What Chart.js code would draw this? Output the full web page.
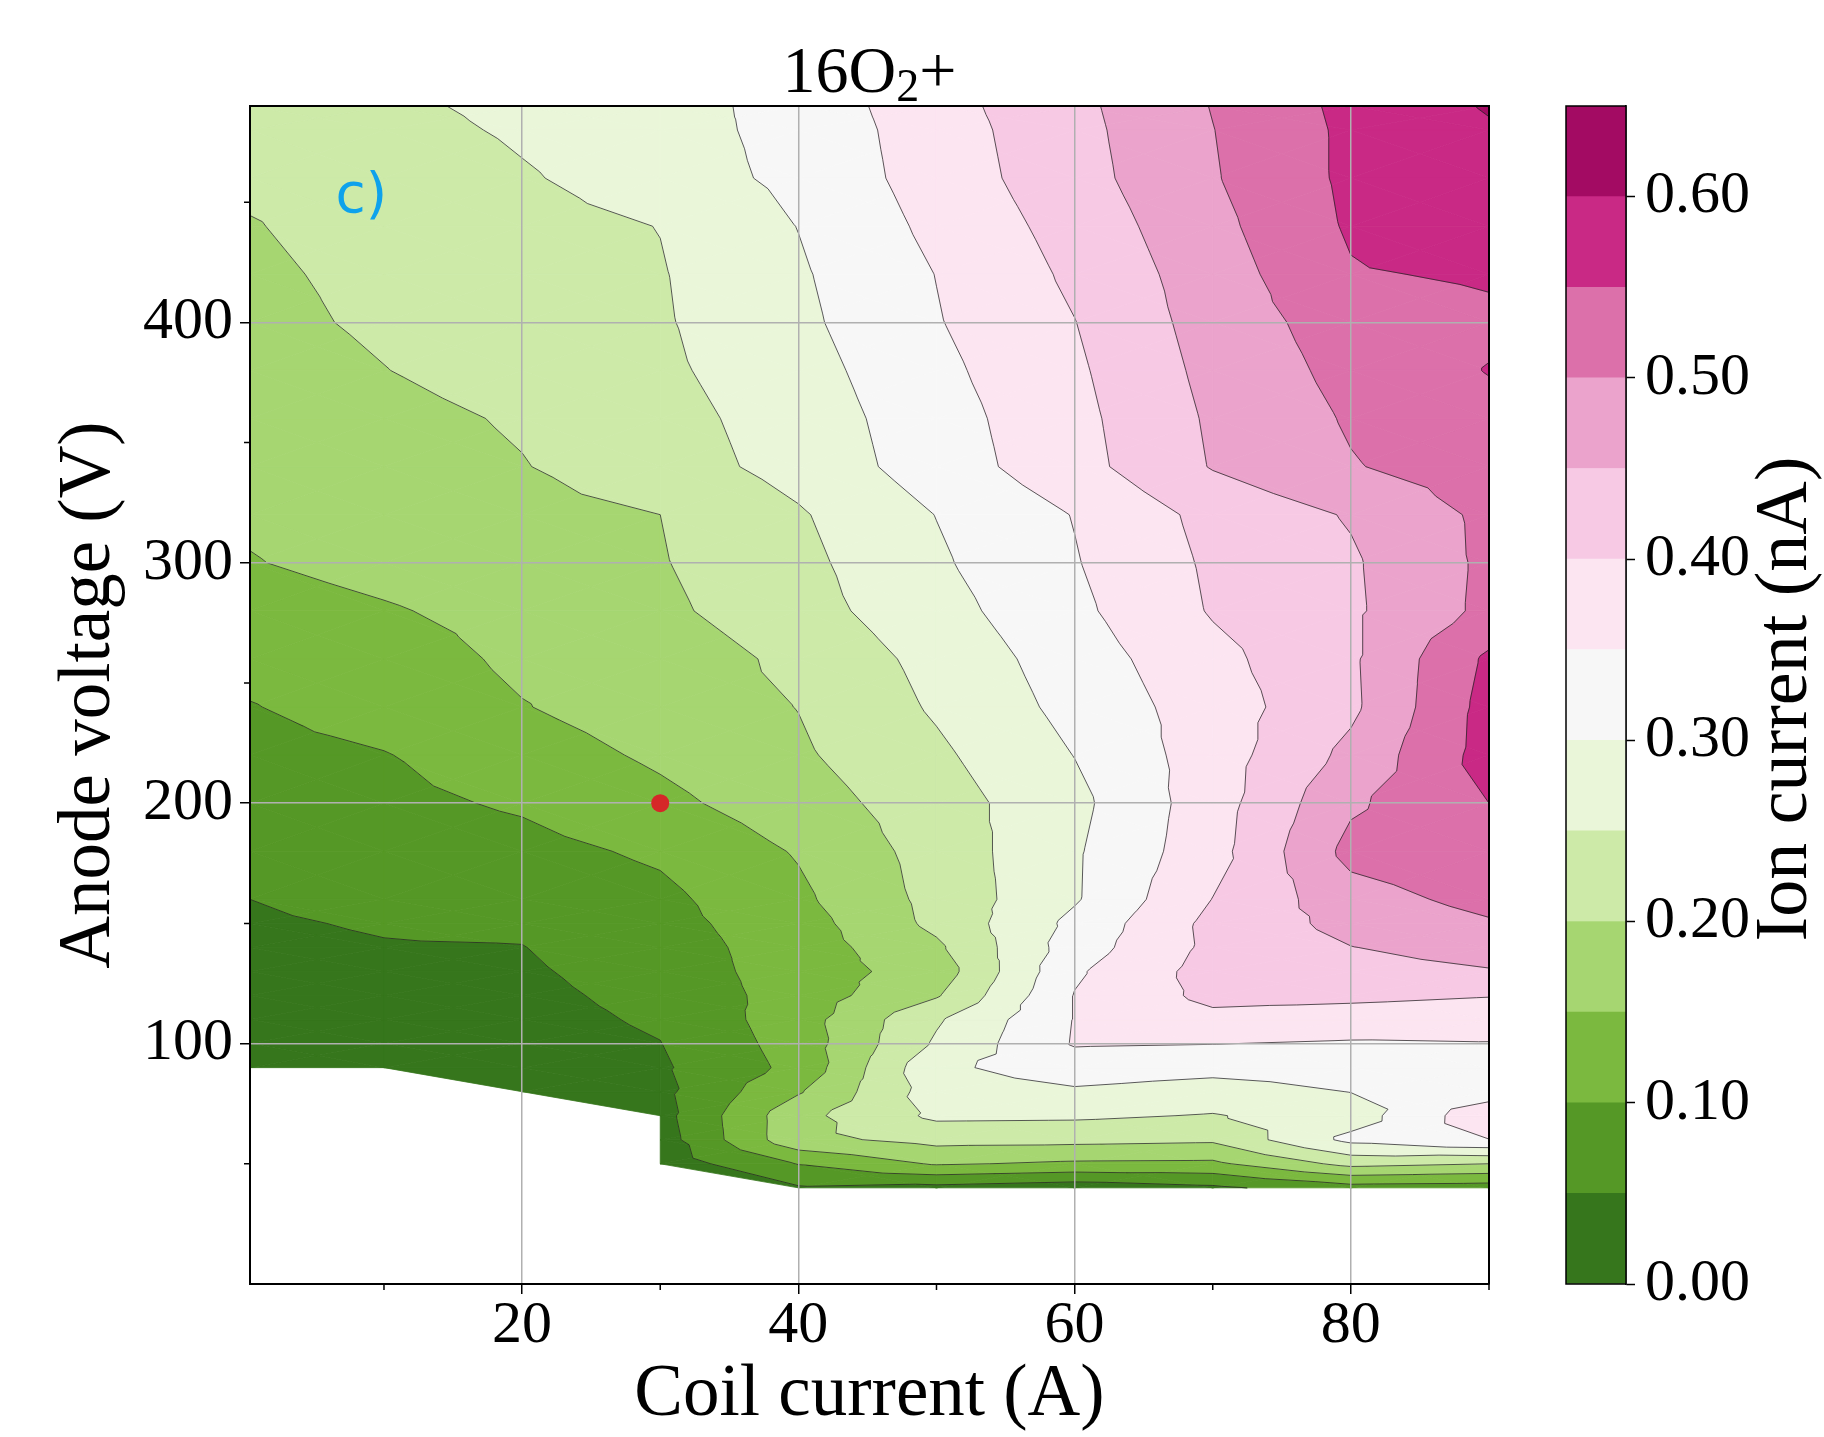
<!DOCTYPE html>
<html>
<head>
<meta charset="utf-8">
<script src="https://cdn.jsdelivr.net/npm/chart.js@4.4.1/dist/chart.umd.min.js"></script>
<style>
  html, body { margin: 0; padding: 0; background: #fff; }
  #wrap { position: relative; width: 1824px; height: 1437px; overflow: hidden; }
  #main { position: absolute; left: 0; top: 0; }
  #cbar { position: absolute; left: 1540px; top: 0; }
</style>
</head>
<body>
<div id="wrap">
  <canvas id="main" width="1540" height="1437"></canvas>
  <canvas id="cbar" width="284" height="1437"></canvas>
</div>
<script>
// measured grid: coil current (A) across, anode voltage (V) up
var coilCurrent = [0.3, 10, 20, 30, 40, 50, 60, 70, 80, 90];
var anodeVoltage = [40, 50, 60, 70, 80, 90, 100, 110, 120, 130, 140, 150, 160, 180, 200,
  220, 240, 260, 280, 300, 320, 340, 360, 380, 400, 420, 440, 460, 480, 490];

// ion current (nA), one row per anode voltage, null = not measured
var ionCurrent = [
  [null, null, null, null, 0.045, 0.035, 0.020, 0.040, 0.080, 0.075],
  [null, null, null, 0.020, 0.102, 0.155, 0.142, 0.140, 0.215, 0.200],
  [null, null, null, 0.026, 0.186, 0.216, 0.214, 0.208, 0.313, 0.349],
  [null, null, null, 0.032, 0.185, 0.260, 0.258, 0.247, 0.275, 0.385],
  [null, null, 0.020, 0.037, 0.145, 0.275, 0.293, 0.278, 0.301, 0.325],
  [0.020, 0.020, 0.025, 0.043, 0.114, 0.290, 0.326, 0.316, 0.323, 0.337],
  [0.024, 0.026, 0.030, 0.049, 0.121, 0.257, 0.354, 0.351, 0.345, 0.348],
  [0.029, 0.031, 0.035, 0.056, 0.127, 0.244, 0.352, 0.387, 0.379, 0.373],
  [0.033, 0.037, 0.039, 0.063, 0.122, 0.195, 0.352, 0.413, 0.410, 0.402],
  [0.038, 0.042, 0.044, 0.070, 0.125, 0.172, 0.343, 0.420, 0.435, 0.447],
  [0.042, 0.048, 0.049, 0.077, 0.124, 0.191, 0.325, 0.412, 0.449, 0.468],
  [0.046, 0.053, 0.057, 0.084, 0.128, 0.212, 0.313, 0.414, 0.465, 0.495],
  [0.050, 0.060, 0.067, 0.088, 0.140, 0.215, 0.295, 0.401, 0.480, 0.515],
  [0.062, 0.072, 0.085, 0.108, 0.154, 0.220, 0.294, 0.381, 0.515, 0.540],
  [0.074, 0.088, 0.106, 0.138, 0.177, 0.227, 0.287, 0.377, 0.492, 0.550],
  [0.086, 0.098, 0.127, 0.158, 0.193, 0.241, 0.301, 0.375, 0.463, 0.570],
  [0.098, 0.120, 0.148, 0.174, 0.201, 0.256, 0.315, 0.375, 0.440, 0.568],
  [0.114, 0.127, 0.159, 0.171, 0.212, 0.265, 0.325, 0.386, 0.442, 0.559],
  [0.131, 0.146, 0.165, 0.190, 0.231, 0.281, 0.339, 0.404, 0.442, 0.512],
  [0.148, 0.164, 0.180, 0.197, 0.237, 0.293, 0.347, 0.408, 0.444, 0.510],
  [0.156, 0.170, 0.185, 0.200, 0.245, 0.301, 0.352, 0.415, 0.454, 0.511],
  [0.163, 0.180, 0.198, 0.227, 0.267, 0.324, 0.382, 0.453, 0.497, 0.525],
  [0.170, 0.186, 0.205, 0.233, 0.272, 0.329, 0.386, 0.457, 0.505, 0.535],
  [0.179, 0.199, 0.220, 0.241, 0.280, 0.338, 0.392, 0.464, 0.515, 0.552],
  [0.188, 0.207, 0.226, 0.245, 0.289, 0.347, 0.399, 0.471, 0.525, 0.540],
  [0.193, 0.210, 0.229, 0.247, 0.294, 0.351, 0.409, 0.476, 0.546, 0.556],
  [0.198, 0.215, 0.233, 0.251, 0.301, 0.362, 0.419, 0.486, 0.556, 0.585],
  [0.207, 0.215, 0.245, 0.275, 0.312, 0.372, 0.431, 0.496, 0.560, 0.590],
  [0.214, 0.232, 0.257, 0.281, 0.315, 0.376, 0.435, 0.499, 0.560, 0.595],
  [0.218, 0.240, 0.262, 0.280, 0.318, 0.381, 0.438, 0.502, 0.563, 0.604]
];

var levels = [0.00, 0.05, 0.10, 0.15, 0.20, 0.25, 0.30, 0.35, 0.40, 0.45, 0.50, 0.55, 0.60, 0.65];
var bandColors = ['#36761c', '#559826', '#7bb93f', '#a6d671', '#cdeaa8', '#eaf6d9', '#f7f7f7',
  '#fce5f1', '#f7c9e4', '#eba3cc', '#dc70aa', '#c92985', '#a30b63'];

var xTicks = [20, 40, 60, 80];
var xMinorTicks = [10, 30, 50, 70, 90];
var yTicks = [100, 200, 300, 400];
var yMinorTicks = [50, 150, 250, 350, 450];
var cbarTicks = [0.0, 0.1, 0.2, 0.3, 0.4, 0.5, 0.6];

// operating point marked in red
var markX = [30];
var markY = [200];

var serif = "'Liberation Serif', 'Times New Roman', serif";
Chart.defaults.font.family = serif;
Chart.defaults.color = '#000';

function mix(a, b, t) {
  return { px: a.px + (b.px - a.px) * t, py: a.py + (b.py - a.py) * t, z: a.z + (b.z - a.z) * t };
}

function clipPoly(poly, f) {
  var out = [];
  for (var i = 0; i < poly.length; i++) {
    var a = poly[i], b = poly[(i + 1) % poly.length];
    var fa = f(a), fb = f(b);
    if (fa >= 0) out.push(a);
    if ((fa >= 0) !== (fb >= 0)) out.push(mix(a, b, fa / (fa - fb)));
  }
  return out;
}

// split every grid cell into triangles (cells with one missing corner keep one triangle)
function buildTriangles(xs, ys) {
  var tris = [];
  for (var j = 0; j < anodeVoltage.length - 1; j++) {
    for (var i = 0; i < coilCurrent.length - 1; i++) {
      var corners = [[i, j], [i + 1, j], [i + 1, j + 1], [i, j + 1]].map(function (c) {
        var z = ionCurrent[c[1]][c[0]];
        if (z === null) return null;
        return { px: xs.getPixelForValue(coilCurrent[c[0]]), py: ys.getPixelForValue(anodeVoltage[c[1]]), z: z };
      });
      var ok = corners.filter(function (p) { return p; });
      if (ok.length === 3) {
        tris.push(ok);
      } else if (ok.length === 4) {
        var mid = { px: 0, py: 0, z: 0 };
        ok.forEach(function (p) { mid.px += p.px / 4; mid.py += p.py / 4; mid.z += p.z / 4; });
        for (var k = 0; k < 4; k++) tris.push([ok[k], ok[(k + 1) % 4], mid]);
      }
    }
  }
  return tris;
}

var contourPlugin = {
  id: 'contourf',
  beforeDraw: function (chart) {
    var ctx = chart.ctx, a = chart.chartArea;
    var tris = buildTriangles(chart.scales.x, chart.scales.y);
    ctx.save();
    ctx.beginPath();
    ctx.rect(a.left, a.top, a.right - a.left, a.bottom - a.top);
    ctx.clip();
    ctx.lineJoin = 'round';
    tris.forEach(function (t) {
      for (var k = 0; k < bandColors.length; k++) {
        var lo = levels[k], hi = levels[k + 1];
        var p = clipPoly(clipPoly(t, function (q) { return q.z - lo; }), function (q) { return hi - q.z; });
        if (p.length < 3) continue;
        ctx.beginPath();
        ctx.moveTo(p[0].px, p[0].py);
        for (var n = 1; n < p.length; n++) ctx.lineTo(p[n].px, p[n].py);
        ctx.closePath();
        ctx.fillStyle = bandColors[k];
        ctx.strokeStyle = bandColors[k];
        ctx.lineWidth = 0.8;
        ctx.fill();
        ctx.stroke();
      }
    });
    // contour lines
    ctx.beginPath();
    tris.forEach(function (t) {
      for (var k = 1; k < levels.length - 1; k++) {
        var L = levels[k], pts = [];
        for (var e = 0; e < 3; e++) {
          var p = t[e], q = t[(e + 1) % 3];
          var fp = p.z - L, fq = q.z - L;
          if ((fp >= 0) !== (fq >= 0)) pts.push(mix(p, q, fp / (fp - fq)));
        }
        if (pts.length === 2) {
          ctx.moveTo(pts[0].px, pts[0].py);
          ctx.lineTo(pts[1].px, pts[1].py);
        }
      }
    });
    ctx.strokeStyle = 'rgba(35,35,35,0.75)';
    ctx.lineWidth = 1;
    ctx.stroke();
    ctx.restore();
  }
};

var framePlugin = {
  id: 'frame',
  afterDraw: function (chart) {
    var ctx = chart.ctx, a = chart.chartArea, xs = chart.scales.x, ys = chart.scales.y;
    ctx.save();
    ctx.strokeStyle = '#000';
    ctx.lineWidth = 2;
    ctx.beginPath();
    ctx.moveTo(a.left, a.top); ctx.lineTo(a.right, a.top); ctx.lineTo(a.right, a.bottom);
    ctx.stroke();
    ctx.lineWidth = 1.5;
    ctx.beginPath();
    xMinorTicks.forEach(function (v) {
      var px = xs.getPixelForValue(v);
      ctx.moveTo(px, a.bottom); ctx.lineTo(px, a.bottom + 6);
    });
    yMinorTicks.forEach(function (v) {
      var py = ys.getPixelForValue(v);
      ctx.moveTo(a.left - 6, py); ctx.lineTo(a.left, py);
    });
    ctx.stroke();

    // title 16O2+
    ctx.fillStyle = '#000';
    ctx.textBaseline = 'alphabetic';
    ctx.textAlign = 'left';
    var big = '66px ' + serif, small = '46px ' + serif;
    ctx.font = big;
    var w1 = ctx.measureText('16O').width, w3 = ctx.measureText('+').width;
    ctx.font = small;
    var w2 = ctx.measureText('2').width;
    var x0 = (a.left + a.right) / 2 - (w1 + w2 + w3) / 2;
    ctx.font = big;
    ctx.fillText('16O', x0, 92);
    ctx.font = small;
    ctx.fillText('2', x0 + w1, 101);
    ctx.font = big;
    ctx.fillText('+', x0 + w1 + w2, 92);

    // panel letter
    ctx.font = "55px 'DejaVu Sans', sans-serif";
    ctx.fillStyle = '#0ea2ec';
    ctx.fillText('c)', a.left + 0.069 * (a.right - a.left), a.top + 0.09 * (a.bottom - a.top));
    ctx.restore();
  }
};

new Chart(document.getElementById('main'), {
  type: 'scatter',
  data: {
    datasets: [{
      data: markX.map(function (x, i) { return { x: x, y: markY[i] }; }),
      pointRadius: 9,
      pointHoverRadius: 9,
      backgroundColor: '#d62728',
      borderWidth: 0
    }]
  },
  options: {
    responsive: false,
    animation: false,
    devicePixelRatio: 1,
    events: [],
    layout: { padding: { left: 0, right: 51, top: 106, bottom: 0 } },
    plugins: { legend: { display: false }, tooltip: { enabled: false } },
    scales: {
      x: {
        type: 'linear', min: 0.3, max: 90,
        afterBuildTicks: function (s) { s.ticks = xTicks.map(function (v) { return { value: v }; }); },
        afterFit: function (s) { s.height = 153; },
        grid: { color: '#b0b0b0', lineWidth: 1.5, tickColor: '#000', tickLength: 10, tickWidth: 1.5 },
        border: { color: '#000', width: 2 },
        ticks: { font: { size: 60, lineHeight: 1 }, padding: 2, maxRotation: 0, autoSkip: false,
          callback: function (v) { return String(v); } },
        title: { display: true, text: 'Coil current (A)', font: { size: 73, lineHeight: 1 }, padding: { top: 0, bottom: 5 } }
      },
      y: {
        type: 'linear', min: 0, max: 490,
        afterBuildTicks: function (s) { s.ticks = yTicks.map(function (v) { return { value: v }; }); },
        afterFit: function (s) { s.width = 250; },
        grid: { color: '#b0b0b0', lineWidth: 1.5, tickColor: '#000', tickLength: 10, tickWidth: 1.5 },
        border: { color: '#000', width: 2 },
        ticks: { font: { size: 60, lineHeight: 1 }, padding: 7, autoSkip: false,
          callback: function (v) { return String(v); } },
        title: { display: true, text: 'Anode voltage (V)', font: { size: 73, lineHeight: 1 }, padding: { top: 53, bottom: 0 } }
      }
    }
  },
  plugins: [contourPlugin, framePlugin]
});

var cbarFramePlugin = {
  id: 'cbarFrame',
  afterDraw: function (chart) {
    var ctx = chart.ctx, a = chart.chartArea;
    ctx.save();
    ctx.strokeStyle = '#000';
    ctx.lineWidth = 1.5;
    ctx.strokeRect(a.left, a.top, a.right - a.left, a.bottom - a.top);
    ctx.translate(266, (a.top + a.bottom) / 2 + 4);
    ctx.rotate(-Math.PI / 2);
    ctx.font = '74px ' + serif;
    ctx.fillStyle = '#000';
    ctx.textAlign = 'center';
    ctx.textBaseline = 'alphabetic';
    ctx.fillText('Ion current (nA)', 0, 0);
    ctx.restore();
  }
};

new Chart(document.getElementById('cbar'), {
  type: 'bar',
  data: {
    labels: [''],
    datasets: bandColors.map(function (c, k) {
      return { data: [[levels[k], levels[k + 1]]], backgroundColor: c, borderWidth: 0,
        barPercentage: 1, categoryPercentage: 1, grouped: false };
    })
  },
  options: {
    responsive: false,
    animation: false,
    devicePixelRatio: 1,
    events: [],
    layout: { padding: { left: 26, right: 0, top: 106, bottom: 153 } },
    plugins: { legend: { display: false }, tooltip: { enabled: false } },
    scales: {
      x: { display: false },
      y: {
        position: 'right', min: 0, max: 0.65,
        afterBuildTicks: function (s) { s.ticks = cbarTicks.map(function (v) { return { value: v }; }); },
        afterFit: function (s) { s.width = 198; },
        grid: { drawOnChartArea: false, tickColor: '#000', tickLength: 9, tickWidth: 1.5 },
        border: { color: '#000', width: 1.5 },
        ticks: { font: { size: 60, lineHeight: 1 }, padding: 10,
          callback: function (v) { return v.toFixed(2); } }
      }
    }
  },
  plugins: [cbarFramePlugin]
});
</script>
</body>
</html>
